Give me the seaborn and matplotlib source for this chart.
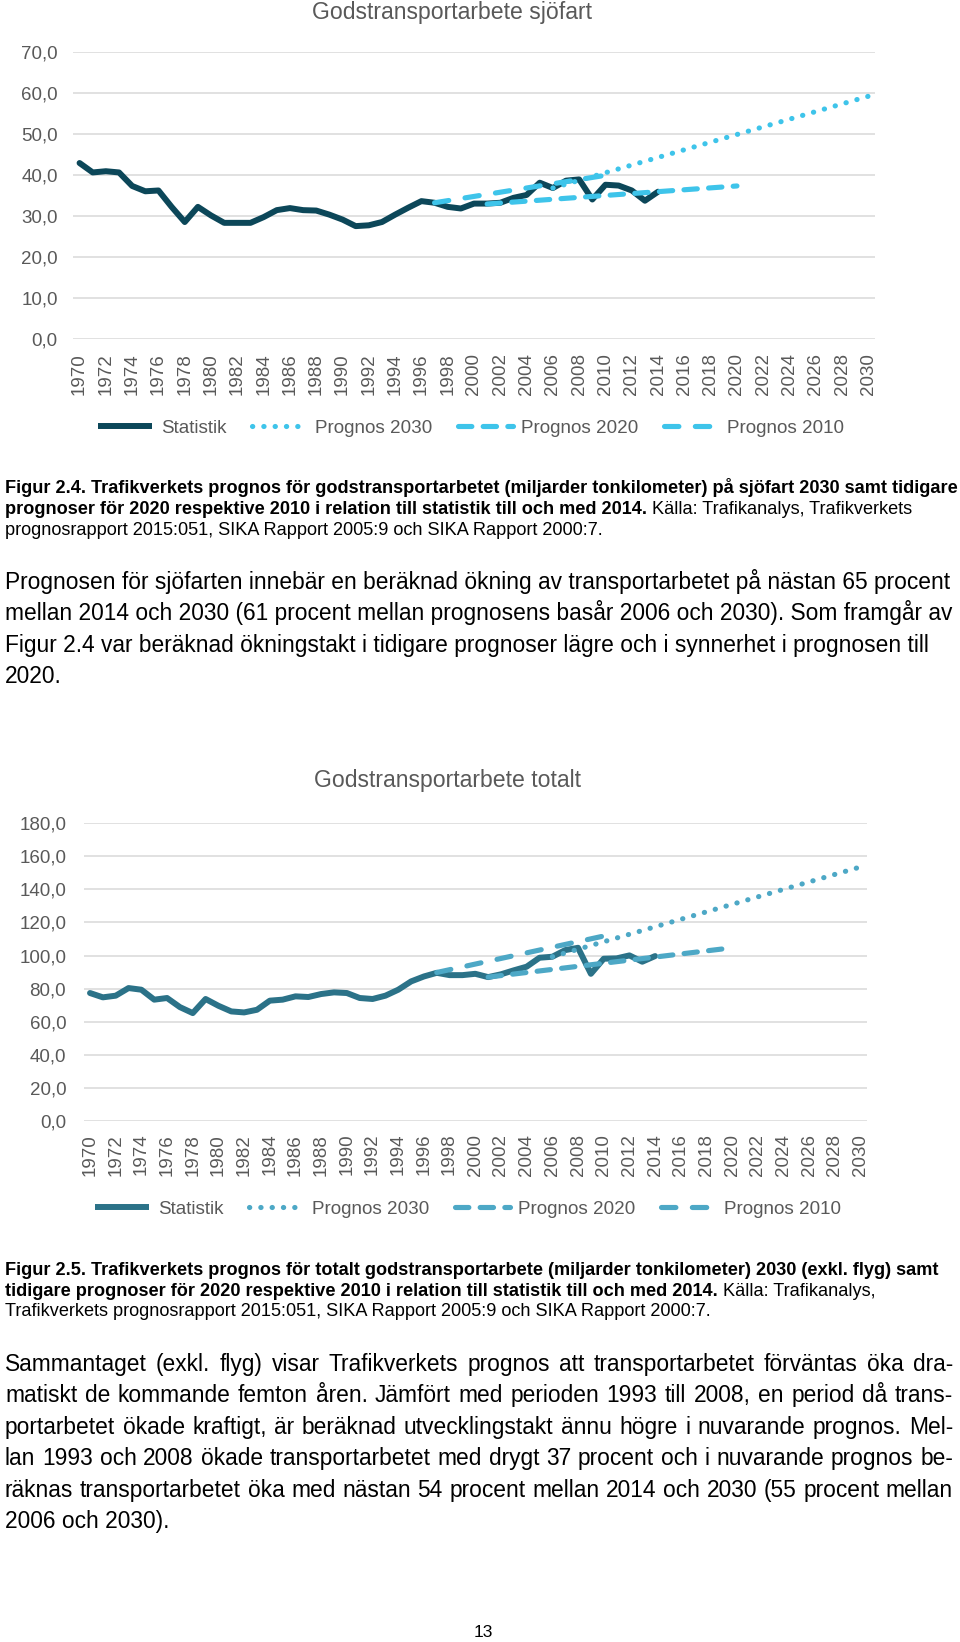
import numpy as np
import pandas as pd
import matplotlib
matplotlib.use("Agg")
import matplotlib.pyplot as plt
from matplotlib.lines import Line2D
from matplotlib.colors import same_color
from matplotlib.ticker import FuncFormatter
import seaborn as sns

sns.set_style("white")
plt.rcParams['font.family'] = ['Liberation Sans', 'DejaVu Sans']
plt.rcParams['lines.solid_capstyle'] = 'round'
plt.rcParams['lines.dash_capstyle'] = 'round'

W, H = 960, 1642

# ---- data (miljarder tonkilometer) ----
stat_years = list(range(1970, 2015))
x_ticks = list(range(1970, 2031, 2))
series_names = ["Statistik", "Prognos 2030", "Prognos 2020", "Prognos 2010"]

sjofart_statistik = [43.0, 40.7, 41.0, 40.7, 37.4, 36.1, 36.3, 32.3, 28.6, 32.3,
                     30.2, 28.4, 28.4, 28.4, 29.8, 31.5, 32.0, 31.5, 31.4, 30.4,
                     29.2, 27.6, 27.8, 28.6, 30.4, 32.1, 33.7, 33.3, 32.3, 31.9,
                     33.1, 33.1, 33.3, 34.5, 35.2, 38.2, 36.9, 38.7, 39.0, 34.1,
                     37.7, 37.5, 36.3, 33.8, 36.0]
sjofart_p2030_years = [2006, 2030]
sjofart_p2030 = [36.9, 59.3]
sjofart_p2020_years = [2001, 2020]
sjofart_p2020 = [33.0, 37.4]
sjofart_p2010_years = [1997, 2010]
sjofart_p2010 = [33.3, 40.0]

totalt_statistik = [77.4, 74.8, 75.8, 80.4, 79.4, 73.4, 74.4, 68.9, 65.3, 73.8,
                    69.7, 66.3, 65.7, 67.3, 72.8, 73.4, 75.4, 75.0, 76.8, 77.8,
                    77.4, 74.4, 73.8, 75.8, 79.4, 84.4, 87.4, 89.6, 88.2, 88.2,
                    89.0, 87.0, 88.7, 91.1, 93.3, 98.7, 99.3, 103.3, 104.7, 89.0,
                    98.1, 98.3, 100.1, 96.3, 99.7]
totalt_p2030_years = [2006, 2030]
totalt_p2030 = [99.3, 153.5]
totalt_p2020_years = [2001, 2020]
totalt_p2020 = [87.0, 104.7]
totalt_p2010_years = [1997, 2010]
totalt_p2010 = [89.8, 111.8]

caption1 = [
    [("Figur 2.4. Trafikverkets prognos för godstransportarbetet (miljarder tonkilometer) på sjöfart 2030 samt tidigare", "bold")],
    [("prognoser för 2020 respektive 2010 i relation till statistik till och med 2014.", "bold"),
     ("Källa: Trafikanalys, Trafikverkets", "normal")],
    [("prognosrapport 2015:051, SIKA Rapport 2005:9 och SIKA Rapport 2000:7.", "normal")],
]
body1 = [
    "Prognosen för sjöfarten innebär en beräknad ökning av transportarbetet på nästan 65 procent",
    "mellan 2014 och 2030 (61 procent mellan prognosens basår 2006 och 2030). Som framgår av",
    "Figur 2.4 var beräknad ökningstakt i tidigare prognoser lägre och i synnerhet i prognosen till",
    "2020.",
]
caption2 = [
    [("Figur 2.5. Trafikverkets prognos för totalt godstransportarbete (miljarder tonkilometer) 2030 (exkl. flyg) samt", "bold")],
    [("tidigare prognoser för 2020 respektive 2010 i relation till statistik till och med 2014.", "bold"),
     ("Källa: Trafikanalys,", "normal")],
    [("Trafikverkets prognosrapport 2015:051, SIKA Rapport 2005:9 och SIKA Rapport 2000:7.", "normal")],
]
body2 = [
    "Sammantaget (exkl. flyg) visar Trafikverkets prognos att transportarbetet förväntas öka dra-",
    "matiskt de kommande femton åren. Jämfört med perioden 1993 till 2008, en period då trans-",
    "portarbetet ökade kraftigt, är beräknad utvecklingstakt ännu högre i nuvarande prognos. Mel-",
    "lan 1993 och 2008 ökade transportarbetet med drygt 37 procent och i nuvarande prognos be-",
    "räknas transportarbetet öka med nästan 54 procent mellan 2014 och 2030 (55 procent mellan",
    "2006 och 2030).",
]

dash_styles = {"Statistik": "", "Prognos 2030": (0.05, 2.15),
               "Prognos 2020": (2.6, 2.2), "Prognos 2010": (2.8, 3.2)}
GREY = "#595959"


def build_frame(stat, p30y, p30, p20y, p20, p10y, p10):
    parts = [
        pd.DataFrame({"year": stat_years, "value": stat, "serie": "Statistik"}),
        pd.DataFrame({"year": p30y, "value": p30, "serie": "Prognos 2030"}),
        pd.DataFrame({"year": p20y, "value": p20, "serie": "Prognos 2020"}),
        pd.DataFrame({"year": p10y, "value": p10, "serie": "Prognos 2010"}),
    ]
    return pd.concat(parts, ignore_index=True)


fig = plt.figure(figsize=(W / 100, H / 100), dpi=100)
renderer = fig.canvas.get_renderer()


def fx(x):
    return x / W


def fy(y):
    return 1 - y / H


def text_width(s, size, weight="normal"):
    t = fig.text(0, 0, s, fontsize=size, fontweight=weight)
    w = t.get_window_extent(renderer).width
    t.remove()
    return w


def draw_chart(left, right, y_top, y_bottom, df, dark, light, ymax, ystep,
               title, title_xy, legend_xy, ypad, xpad):
    ax = fig.add_axes([fx(left), fy(y_bottom), (right - left) / W, (y_bottom - y_top) / H])
    palette = {"Statistik": dark, "Prognos 2030": light,
               "Prognos 2020": light, "Prognos 2010": light}
    sns.lineplot(data=df, x="year", y="value", hue="serie", style="serie",
                 hue_order=series_names, style_order=series_names,
                 palette=palette, dashes=dash_styles, linewidth=3.7,
                 errorbar=None, legend=False, ax=ax)
    for ln in ax.lines:
        if same_color(ln.get_color(), dark):
            ln.set_linewidth(4.3)
            ln.set_zorder(2)
        else:
            ln.set_zorder(3)
    ax.set_xlim(1969.5, 2030.5)
    ax.set_ylim(0, ymax)
    ax.set_yticks(np.arange(0, ymax + 0.1, ystep))
    ax.set_xticks(x_ticks)
    ax.set_xticklabels([str(y) for y in x_ticks], rotation=90)
    ax.yaxis.set_major_formatter(FuncFormatter(lambda v, p: f"{v:.1f}".replace(".", ",")))
    ax.yaxis.grid(True, color="#D9D9D9", linewidth=1.1, zorder=0)
    ax.xaxis.grid(False)
    ax.set_axisbelow(True)
    sns.despine(ax=ax, left=True, bottom=True)
    ax.tick_params(axis="both", length=0, labelsize=13.5, labelcolor=GREY)
    ax.tick_params(axis="y", pad=ypad)
    ax.tick_params(axis="x", pad=xpad)
    ax.set_xlabel("")
    ax.set_ylabel("")
    fig.text(fx(title_xy[0]), fy(title_xy[1]), title, fontsize=16.6, color=GREY,
             ha="center", va="center")
    handles = [Line2D([], [], color=palette[n], linewidth=4.3 if n == "Statistik" else 3.7,
                      dashes=dash_styles[n] if dash_styles[n] else (None, None),
                      solid_capstyle="butt", dash_capstyle="round")
               for n in series_names]
    fig.legend(handles, series_names, loc="center",
               bbox_to_anchor=(fx(legend_xy[0]), fy(legend_xy[1])),
               ncol=4, frameon=False, fontsize=13.6, labelcolor=GREY,
               handlelength=2.9, handletextpad=0.45, columnspacing=1.35)
    return ax


def draw_runs(y, runs, size, x0=5):
    space = text_width("a a", size) - text_width("aa", size)
    x = x0
    for s, weight in runs:
        fig.text(fx(x), fy(y), s, fontsize=size, fontweight=weight,
                 ha="left", va="baseline", color="black")
        x += text_width(s, size, weight) + space


def draw_justified(y, line, size, x0=5, x1=953):
    words = line.split()
    widths = [text_width(w, size) for w in words]
    gap = (x1 - x0 - sum(widths)) / (len(words) - 1)
    x = x0
    for w, wd in zip(words, widths):
        fig.text(fx(x), fy(y), w, fontsize=size, ha="left", va="baseline", color="black")
        x += wd + gap


# ---- charts ----
df_sjo = build_frame(sjofart_statistik, sjofart_p2030_years, sjofart_p2030,
                     sjofart_p2020_years, sjofart_p2020, sjofart_p2010_years, sjofart_p2010)
df_tot = build_frame(totalt_statistik, totalt_p2030_years, totalt_p2030,
                     totalt_p2020_years, totalt_p2020, totalt_p2010_years, totalt_p2010)

draw_chart(73, 875, 52.4, 339.2, df_sjo, "#0C4759", "#3EC4EA", 70, 10,
           "Godstransportarbete sjöfart", (452, 12), (471, 428), 11, 10)
draw_chart(83.6, 867, 823, 1121.3, df_tot, "#2B7288", "#4DA8C6", 180, 20,
           "Godstransportarbete totalt", (448, 780), (468, 1209), 12.5, 9)

# ---- captions and body text ----
cap_size = 12.0 * 949 / text_width(caption1[0][0][0], 12.0, "bold")
body_size = 16.0 * 947 / text_width(body1[0], 16.0)

for i, runs in enumerate(caption1):
    draw_runs(493 + 21 * i, runs, cap_size)
for i, line in enumerate(body1):
    draw_runs(589 + 31.3 * i, [(line, "normal")], body_size)

for i, runs in enumerate(caption2):
    draw_runs(1275 + 20.5 * i, runs, cap_size)
for i, line in enumerate(body2):
    y = 1371 + 31.4 * i
    if i < len(body2) - 1:
        draw_justified(y, line, body_size)
    else:
        draw_runs(y, [(line, "normal")], body_size)

fig.text(fx(483), fy(1637), "13", fontsize=12.5, ha="center", va="baseline", color="black")

fig.savefig("out.png", dpi=100)
